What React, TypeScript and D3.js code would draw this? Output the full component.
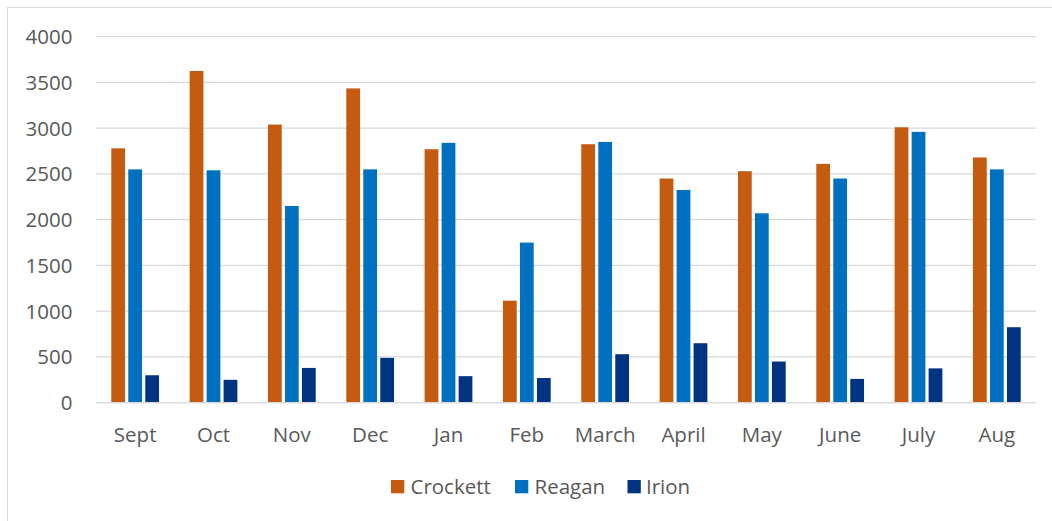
import React from "react";
import * as d3 from "d3";

const months = ["Sept", "Oct", "Nov", "Dec", "Jan", "Feb", "March", "April", "May", "June", "July", "Aug"];
const crockett = [2780, 3625, 3040, 3435, 2770, 1115, 2825, 2450, 2530, 2610, 3010, 2680];
const reagan = [2550, 2540, 2150, 2550, 2840, 1750, 2850, 2325, 2070, 2450, 2960, 2550];
const irion = [300, 250, 380, 490, 290, 270, 530, 650, 450, 260, 375, 825];
const yTicks = [0, 500, 1000, 1500, 2000, 2500, 3000, 3500, 4000];
const seriesNames = ["Crockett", "Reagan", "Irion"];
const colors = ["#C55A11", "#0070C0", "#003380"];

export default function App() {
  const W = 1052, H = 521;
  const left = 96, right = 1036, top = 36.7, bottom = 402.7;
  const series = [crockett, reagan, irion];
  const x = d3.scaleBand<string>().domain(months).range([left, right]).paddingInner(0).paddingOuter(0);
  const inner = d3.scaleBand<string>().domain(seriesNames).range([0, x.bandwidth()]).paddingInner(0.19).paddingOuter(0.9);
  const y = d3.scaleLinear().domain([0, 4000]).range([bottom, top]);
  const font = "'Open Sans', 'Noto Sans', sans-serif";
  const fs = 20.5;
  const legendItems = [
    { x: 391, tx: 410.5 },
    { x: 515, tx: 534.5 },
    { x: 627.5, tx: 646 },
  ];
  return (
    <svg width={W} height={H} style={{ position: "absolute", left: 0, top: 0 }} fontFamily={font}>
      <rect x={0} y={0} width={W} height={H} fill="#fff" />
      <rect x={7.5} y={7.5} width={W + 10} height={H + 10} fill="none" stroke="#D9D9D9" strokeWidth={1} />
      {yTicks.map((t) => (
        <g key={t}>
          <line x1={left} x2={right} y1={y(t)} y2={y(t)} stroke="#D9D9D9" strokeWidth={1.3} />
          <text x={72.5} y={y(t)} dy="0.36em" textAnchor="end" fontSize={fs} fill="#595959">{t}</text>
        </g>
      ))}
      {months.map((m, i) => (
        <g key={m}>
          {series.map((s, j) => (
            <rect
              key={j}
              x={(x(m) as number) + (inner(seriesNames[j]) as number)}
              y={y(s[i])}
              width={inner.bandwidth()}
              height={y(0) - y(s[i])}
              fill={colors[j]}
            />
          ))}
          <text x={(x(m) as number) + x.bandwidth() / 2} y={441.5} textAnchor="middle" fontSize={fs} fill="#595959">{m}</text>
        </g>
      ))}
      <line x1={left} x2={right} y1={y(0)} y2={y(0)} stroke="#D9D9D9" strokeWidth={1.3} />
      {seriesNames.map((n, j) => (
        <g key={n}>
          <rect x={legendItems[j].x} y={480} width={13.3} height={13.3} fill={colors[j]} />
          <text x={legendItems[j].tx} y={494} fontSize={fs} fill="#595959">{n}</text>
        </g>
      ))}
    </svg>
  );
}
